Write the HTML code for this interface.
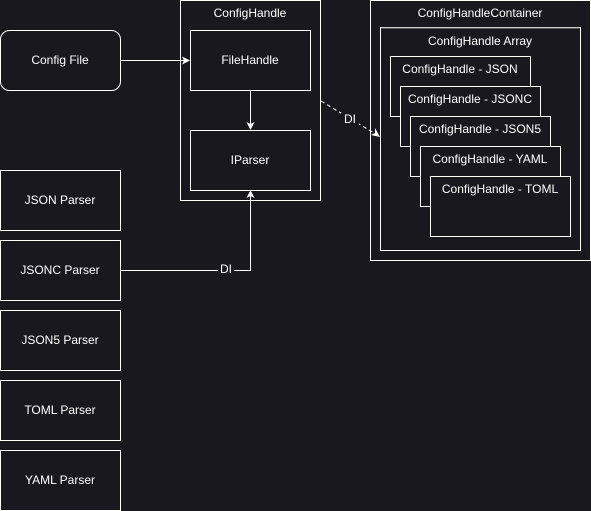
<!DOCTYPE html>
<html><head><style>
html,body{margin:0;padding:0;background:#1a181f;}
svg{display:block}
text{font-family:"Liberation Sans",Arial,sans-serif;font-size:12px;fill:#fff;text-anchor:middle;}
</style></head><body>
<svg width="591" height="511" viewBox="0 0 591 511">
<rect width="591" height="511" fill="#1a181f"/>
<g fill="#1a181f" stroke="#fff" stroke-width="1">
<rect x="0.5" y="30.5" width="120" height="60" rx="9"/>
<rect x="180.5" y="0.5" width="140" height="200"/>
<rect x="190.5" y="30.5" width="120" height="60"/>
<rect x="190.5" y="130.5" width="120" height="60"/>
<rect x="0.5" y="170.5" width="120" height="60"/>
<rect x="0.5" y="240.5" width="120" height="60"/>
<rect x="0.5" y="310.5" width="120" height="60"/>
<rect x="0.5" y="380.5" width="120" height="60"/>
<rect x="0.5" y="450.5" width="120" height="60"/>
<rect x="370.5" y="0.5" width="220" height="260"/>
<rect x="380.5" y="27.5" width="200" height="223"/>
<rect x="390.5" y="56.5" width="140" height="60"/>
<rect x="400.5" y="86.5" width="140" height="60"/>
<rect x="410.5" y="116.5" width="140" height="60"/>
<rect x="420.5" y="146.5" width="140" height="60"/>
<rect x="430.5" y="176.5" width="140" height="60"/>
</g>
<line x1="381" y1="28" x2="580" y2="28" stroke="#999" stroke-width="1"/>
<g stroke="#fff" fill="none">
<line x1="120" y1="60.5" x2="184" y2="60.5"/>
<line x1="250.5" y1="90" x2="250.5" y2="124"/>
<polyline points="120,270.5 250.5,270.5 250.5,196"/>
<line x1="321" y1="101" x2="374" y2="133" stroke-dasharray="4,3"/>
</g>
<g fill="#fff">
<polygon points="190,60.5 182,56.5 184,60.5 182,64.5"/>
<polygon points="250.5,130 246.5,122 250.5,124 254.5,122"/>
<polygon points="250.5,190 246.5,198 250.5,196 254.5,198"/>
<polygon points="380,137 371,135 375,133 375,128"/>
</g>
<rect x="218" y="263" width="16" height="14" fill="#1a181f"/>
<rect x="341" y="113" width="18" height="14" fill="#1a181f"/>
<text x="60" y="64">Config File</text>
<text x="250" y="17">ConfigHandle</text>
<text x="250" y="64">FileHandle</text>
<text x="250" y="164">IParser</text>
<text x="60" y="204">JSON Parser</text>
<text x="60" y="274">JSONC Parser</text>
<text x="60" y="344">JSON5 Parser</text>
<text x="60" y="414">TOML Parser</text>
<text x="60" y="484">YAML Parser</text>
<text x="226" y="273">DI</text>
<text x="350" y="123">DI</text>
<text x="480" y="17">ConfigHandleContainer</text>
<text x="480" y="45">ConfigHandle Array</text>
<text x="460" y="73">ConfigHandle - JSON</text>
<text x="470" y="103">ConfigHandle - JSONC</text>
<text x="480" y="133">ConfigHandle - JSON5</text>
<text x="490" y="163">ConfigHandle - YAML</text>
<text x="500" y="193">ConfigHandle - TOML</text>
</svg>
</body></html>
